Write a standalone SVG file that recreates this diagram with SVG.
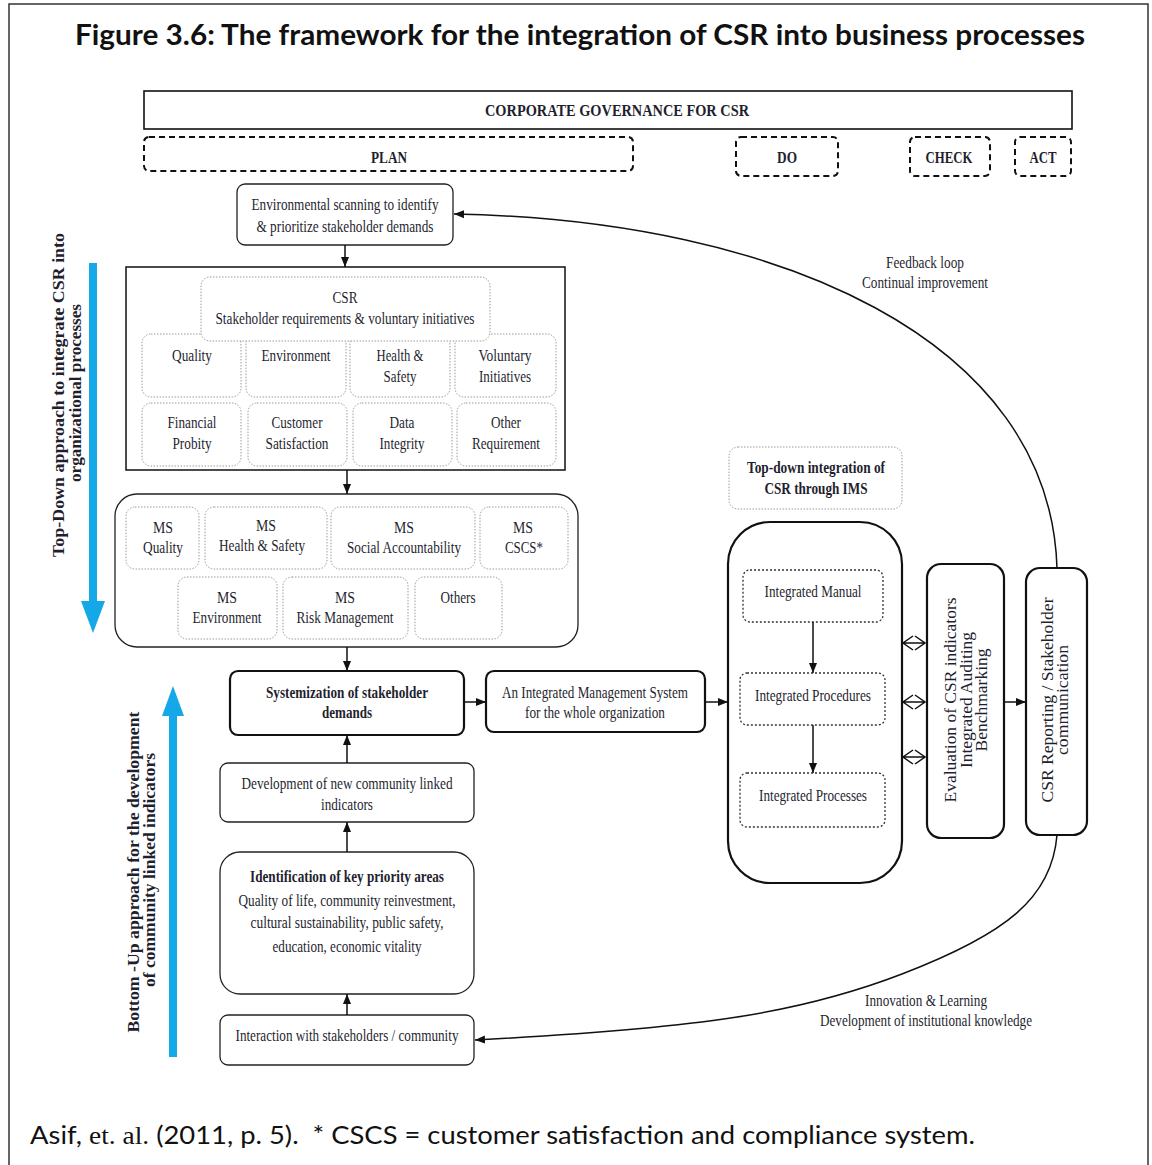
<svg xmlns="http://www.w3.org/2000/svg" width="1152" height="1165" viewBox="0 0 1152 1165">
<defs>
<style>
.t{font-family:"Liberation Serif","Times New Roman",serif;font-size:17px;fill:#1f1f30;text-anchor:middle}
.b{font-weight:bold}
.sm{font-size:16px}
.solid{fill:#fff;stroke:#222;stroke-width:1.3}
.thick{fill:#fff;stroke:#111;stroke-width:2.2}
.dotg{fill:#fff;stroke:#9a9a9a;stroke-width:1;stroke-dasharray:1.5 1.5}
.dotk{fill:#fff;stroke:#333;stroke-width:1.3;stroke-dasharray:2 2}
.dash{fill:none;stroke:#111;stroke-width:2;stroke-dasharray:6 4}
.conn{fill:none;stroke:#111;stroke-width:1.5}
.blue{fill:#15a8e8}
</style>
<marker id="ah" viewBox="0 0 10 10" refX="10" refY="5" markerWidth="10" markerHeight="10" markerUnits="userSpaceOnUse" orient="auto">
<path d="M0,1 L10,5 L0,9 z" fill="#111"/>
</marker>
</defs>
<rect x="0" y="0" width="1152" height="1165" fill="#fff"/>
<rect id="frame" x="9" y="4" width="1139" height="1175" fill="none" stroke="#333" stroke-width="1.5"/>

<text id="title" x="580" y="45" textLength="1010" lengthAdjust="spacingAndGlyphs" style="font-family:Lato,'Open Sans',sans-serif;font-weight:bold;font-size:28px;fill:#111;text-anchor:middle">Figure 3.6: The framework for the integration of CSR into business processes</text>

<g id="governance">
<rect x="144" y="91" width="928" height="38" fill="#fff" stroke="#111" stroke-width="1.6"/>
<text class="t b sm" x="617" y="116" textLength="264" lengthAdjust="spacingAndGlyphs">CORPORATE GOVERNANCE FOR CSR</text>
</g>
<g id="plan">
<rect class="dash" x="144" y="137" width="489" height="34" rx="5"/>
<text class="t b sm" x="389" y="163" textLength="36" lengthAdjust="spacingAndGlyphs">PLAN</text>
</g>
<g id="do">
<rect class="dash" x="736" y="137" width="102" height="39" rx="5"/>
<text class="t b sm" x="787" y="163" textLength="20" lengthAdjust="spacingAndGlyphs">DO</text>
</g>
<g id="check">
<rect class="dash" x="910" y="137" width="80" height="39" rx="5"/>
<text class="t b sm" x="949" y="163" textLength="47" lengthAdjust="spacingAndGlyphs">CHECK</text>
</g>
<g id="act">
<rect class="dash" x="1015" y="137" width="56" height="39" rx="5"/>
<text class="t b sm" x="1043" y="163" textLength="27" lengthAdjust="spacingAndGlyphs">ACT</text>
</g>

<g id="env-scanning">
<rect class="solid" x="237" y="184" width="216" height="61" rx="8"/>
<text class="t" x="345" y="210" textLength="187" lengthAdjust="spacingAndGlyphs">Environmental scanning to identify</text>
<text class="t" x="345" y="232" textLength="177" lengthAdjust="spacingAndGlyphs">&amp; prioritize stakeholder demands</text>
</g>

<g id="csr-block">
<rect x="126" y="267" width="439" height="203" fill="#fff" stroke="#111" stroke-width="1.5"/>
<rect class="dotg" x="142" y="334" width="99" height="63" rx="9"/>
<text class="t" x="192" y="361" textLength="40" lengthAdjust="spacingAndGlyphs">Quality</text>
<rect class="dotg" x="246" y="334" width="100" height="63" rx="9"/>
<text class="t" x="296" y="361" textLength="69" lengthAdjust="spacingAndGlyphs">Environment</text>
<rect class="dotg" x="350" y="334" width="100" height="63" rx="9"/>
<text class="t" x="400" y="361" textLength="47" lengthAdjust="spacingAndGlyphs">Health &amp;</text>
<text class="t" x="400" y="382" textLength="33" lengthAdjust="spacingAndGlyphs">Safety</text>
<rect class="dotg" x="455" y="334" width="101" height="63" rx="9"/>
<text class="t" x="505" y="361" textLength="53" lengthAdjust="spacingAndGlyphs">Voluntary</text>
<text class="t" x="505" y="382" textLength="52" lengthAdjust="spacingAndGlyphs">Initiatives</text>
<rect class="dotg" x="142" y="403" width="99" height="63" rx="9"/>
<text class="t" x="192" y="428" textLength="49" lengthAdjust="spacingAndGlyphs">Financial</text>
<text class="t" x="192" y="449" textLength="39" lengthAdjust="spacingAndGlyphs">Probity</text>
<rect class="dotg" x="248" y="403" width="99" height="63" rx="9"/>
<text class="t" x="297" y="428" textLength="51" lengthAdjust="spacingAndGlyphs">Customer</text>
<text class="t" x="297" y="449" textLength="63" lengthAdjust="spacingAndGlyphs">Satisfaction</text>
<rect class="dotg" x="353" y="403" width="99" height="63" rx="9"/>
<text class="t" x="402" y="428" textLength="25" lengthAdjust="spacingAndGlyphs">Data</text>
<text class="t" x="402" y="449" textLength="45" lengthAdjust="spacingAndGlyphs">Integrity</text>
<rect class="dotg" x="457" y="403" width="99" height="63" rx="9"/>
<text class="t" x="506" y="428" textLength="30" lengthAdjust="spacingAndGlyphs">Other</text>
<text class="t" x="506" y="449" textLength="68" lengthAdjust="spacingAndGlyphs">Requirement</text>
<rect class="dotg" x="201" y="277" width="289" height="64" rx="9"/>
<text class="t" x="345" y="303" textLength="25" lengthAdjust="spacingAndGlyphs">CSR</text>
<text class="t" x="345" y="324" textLength="259" lengthAdjust="spacingAndGlyphs">Stakeholder requirements &amp; voluntary initiatives</text>
</g>

<g id="ms-block">
<rect class="solid" x="115" y="494" width="463" height="153" rx="22"/>
<rect class="dotg" x="126" y="507" width="73" height="62" rx="9"/>
<text class="t" x="163" y="533" textLength="20" lengthAdjust="spacingAndGlyphs">MS</text>
<text class="t" x="163" y="553" textLength="40" lengthAdjust="spacingAndGlyphs">Quality</text>
<rect class="dotg" x="205" y="507" width="122" height="62" rx="9"/>
<text class="t" x="266" y="531" textLength="20" lengthAdjust="spacingAndGlyphs">MS</text>
<text class="t" x="262" y="551" textLength="86" lengthAdjust="spacingAndGlyphs">Health &amp; Safety</text>
<rect class="dotg" x="331" y="507" width="144" height="62" rx="9"/>
<text class="t" x="404" y="533" textLength="20" lengthAdjust="spacingAndGlyphs">MS</text>
<text class="t" x="404" y="553" textLength="114" lengthAdjust="spacingAndGlyphs">Social Accountability</text>
<rect class="dotg" x="480" y="507" width="88" height="62" rx="9"/>
<text class="t" x="523" y="533" textLength="20" lengthAdjust="spacingAndGlyphs">MS</text>
<text class="t" x="524" y="553" textLength="38" lengthAdjust="spacingAndGlyphs">CSCS*</text>
<rect class="dotg" x="178" y="577" width="99" height="62" rx="9"/>
<text class="t" x="227" y="603" textLength="20" lengthAdjust="spacingAndGlyphs">MS</text>
<text class="t" x="227" y="623" textLength="69" lengthAdjust="spacingAndGlyphs">Environment</text>
<rect class="dotg" x="283" y="577" width="125" height="62" rx="9"/>
<text class="t" x="345" y="603" textLength="20" lengthAdjust="spacingAndGlyphs">MS</text>
<text class="t" x="345" y="623" textLength="97" lengthAdjust="spacingAndGlyphs">Risk Management</text>
<rect class="dotg" x="415" y="577" width="87" height="62" rx="9"/>
<text class="t" x="458" y="603" textLength="35" lengthAdjust="spacingAndGlyphs">Others</text>
</g>

<g id="systemization">
<rect class="thick" x="230" y="671" width="234" height="64" rx="8"/>
<text class="t b" x="347" y="698" textLength="162" lengthAdjust="spacingAndGlyphs">Systemization of stakeholder</text>
<text class="t b" x="347" y="718" textLength="50" lengthAdjust="spacingAndGlyphs">demands</text>
</g>

<g id="ims">
<rect class="thick" x="486" y="671" width="219" height="61" rx="8"/>
<text class="t" x="595" y="698" textLength="186" lengthAdjust="spacingAndGlyphs">An Integrated Management System</text>
<text class="t" x="595" y="718" textLength="140" lengthAdjust="spacingAndGlyphs">for the whole organization</text>
</g>

<g id="development">
<rect class="solid" x="220" y="763" width="254" height="59" rx="8" stroke="#555"/>
<text class="t" x="347" y="789" textLength="211" lengthAdjust="spacingAndGlyphs">Development of new community linked</text>
<text class="t" x="347" y="810" textLength="52" lengthAdjust="spacingAndGlyphs">indicators</text>
</g>

<g id="identification">
<rect class="solid" x="220" y="852" width="254" height="142" rx="20" stroke="#555"/>
<text class="t b" x="347" y="882" textLength="194" lengthAdjust="spacingAndGlyphs">Identification of key priority areas</text>
<text class="t" x="347" y="906" textLength="217" lengthAdjust="spacingAndGlyphs">Quality of life, community reinvestment,</text>
<text class="t" x="347" y="928" textLength="193" lengthAdjust="spacingAndGlyphs">cultural sustainability, public safety,</text>
<text class="t" x="347" y="952" textLength="149" lengthAdjust="spacingAndGlyphs">education, economic vitality</text>
</g>

<g id="interaction">
<rect class="solid" x="220" y="1015" width="254" height="50" rx="8" stroke="#555"/>
<text class="t" x="347" y="1041" textLength="223" lengthAdjust="spacingAndGlyphs">Interaction with stakeholders / community</text>
</g>

<g id="topdown-ims-label">
<rect class="dotg" x="729" y="447" width="173" height="62" rx="9"/>
<text class="t b" x="816" y="473" textLength="138" lengthAdjust="spacingAndGlyphs">Top-down integration of</text>
<text class="t b" x="816" y="494" textLength="103" lengthAdjust="spacingAndGlyphs">CSR through IMS</text>
</g>

<g id="ims-container">
<rect class="thick" x="728" y="522" width="174" height="361" rx="42"/>
</g>
<g id="integrated-manual">
<rect class="dotk" x="743" y="570" width="140" height="52" rx="7"/>
<text class="t" x="813" y="597" textLength="97" lengthAdjust="spacingAndGlyphs">Integrated Manual</text>
</g>
<g id="integrated-procedures">
<rect class="dotk" x="740" y="673" width="145" height="52" rx="7"/>
<text class="t" x="813" y="701" textLength="116" lengthAdjust="spacingAndGlyphs">Integrated Procedures</text>
</g>
<g id="integrated-processes">
<rect class="dotk" x="740" y="773" width="145" height="54" rx="7"/>
<text class="t" x="813" y="801" textLength="108" lengthAdjust="spacingAndGlyphs">Integrated Processes</text>
</g>

<g id="evaluation">
<rect class="thick" x="927" y="564" width="77" height="274" rx="14"/>
<text class="t sm" transform="translate(956,700) rotate(-90)" textLength="205" lengthAdjust="spacingAndGlyphs">Evaluation of CSR indicators</text>
<text class="t sm" transform="translate(972,700) rotate(-90)" textLength="136" lengthAdjust="spacingAndGlyphs">Integrated Auditing</text>
<text class="t sm" transform="translate(987,700) rotate(-90)" textLength="103" lengthAdjust="spacingAndGlyphs">Benchmarking</text>
</g>

<g id="reporting">
<rect class="thick" x="1026" y="568" width="61" height="267" rx="14"/>
<text class="t sm" transform="translate(1053,700) rotate(-90)" textLength="205" lengthAdjust="spacingAndGlyphs">CSR Reporting / Stakeholder</text>
<text class="t sm" transform="translate(1068,700) rotate(-90)" textLength="110" lengthAdjust="spacingAndGlyphs">communication</text>
</g>

<g id="connectors">
<path class="conn" d="M345,245 L345,267" marker-end="url(#ah)"/>
<path class="conn" d="M347,470 L347,494" marker-end="url(#ah)"/>
<path class="conn" d="M347,647 L347,671" marker-end="url(#ah)"/>
<path class="conn" d="M464,702 L486,702" marker-end="url(#ah)"/>
<path class="conn" d="M705,702 L728,702" marker-end="url(#ah)"/>
<path class="conn" d="M813,622 L813,673" marker-end="url(#ah)"/>
<path class="conn" d="M813,725 L813,773" marker-end="url(#ah)"/>
<path class="conn" d="M1004,702 L1026,702" marker-end="url(#ah)"/>
<path class="conn" d="M347,763 L347,735" marker-end="url(#ah)"/>
<path class="conn" d="M347,852 L347,822" marker-end="url(#ah)"/>
<path class="conn" d="M347,1015 L347,994" marker-end="url(#ah)"/>
<path class="conn" d="M1057,568 C1050,340 780,220 454,214" marker-end="url(#ah)"/>
<path class="conn" d="M1057,835 C1052,898 1006,934 902,974 S700,1028 475,1040" marker-end="url(#ah)"/>
<path class="conn" stroke-width="1.2" d="M913,636 L903,643 L913,650 M915,636 L925,643 L915,650 M903,643 L925,643"/>
<path class="conn" stroke-width="1.2" d="M913,695 L903,702 L913,709 M915,695 L925,702 L915,709 M903,702 L925,702"/>
<path class="conn" stroke-width="1.2" d="M913,750 L903,757 L913,764 M915,750 L925,757 L915,764 M903,757 L925,757"/>
</g>

<g id="loop-labels">
<text class="t sm" x="925" y="268" textLength="78" lengthAdjust="spacingAndGlyphs">Feedback loop</text>
<text class="t sm" x="925" y="288" textLength="126" lengthAdjust="spacingAndGlyphs">Continual improvement</text>
<text class="t sm" x="926" y="1006" textLength="122" lengthAdjust="spacingAndGlyphs">Innovation &amp; Learning</text>
<text class="t sm" x="926" y="1026" textLength="212" lengthAdjust="spacingAndGlyphs">Development of institutional knowledge</text>
</g>

<g id="topdown-approach">
<rect class="blue" x="89" y="263" width="8" height="340"/>
<path class="blue" d="M81,601 L105,601 L93,633 z"/>
<text class="t b sm" transform="translate(64,395) rotate(-90)" textLength="324" lengthAdjust="spacingAndGlyphs">Top-Down approach to integrate CSR into</text>
<text class="t b sm" transform="translate(81,393) rotate(-90)" textLength="178" lengthAdjust="spacingAndGlyphs">organizational processes</text>
</g>

<g id="bottomup-approach">
<rect class="blue" x="169" y="713" width="8" height="344"/>
<path class="blue" d="M162,716 L184,716 L173,686 z"/>
<text class="t b sm" transform="translate(139,872) rotate(-90)" textLength="321" lengthAdjust="spacingAndGlyphs">Bottom -Up approach for the development</text>
<text class="t b sm" transform="translate(155,870) rotate(-90)" textLength="234" lengthAdjust="spacingAndGlyphs">of community linked indicators</text>
</g>

<text id="caption" x="30" y="1144" textLength="945" lengthAdjust="spacingAndGlyphs" style="font-family:Lato,'Open Sans',sans-serif;font-size:25px;fill:#111">Asif, <tspan style="font-family:'Liberation Serif',serif">et. al.</tspan> (2011, p. 5).&#160; * CSCS = customer satisfaction and compliance system.</text>
</svg>
